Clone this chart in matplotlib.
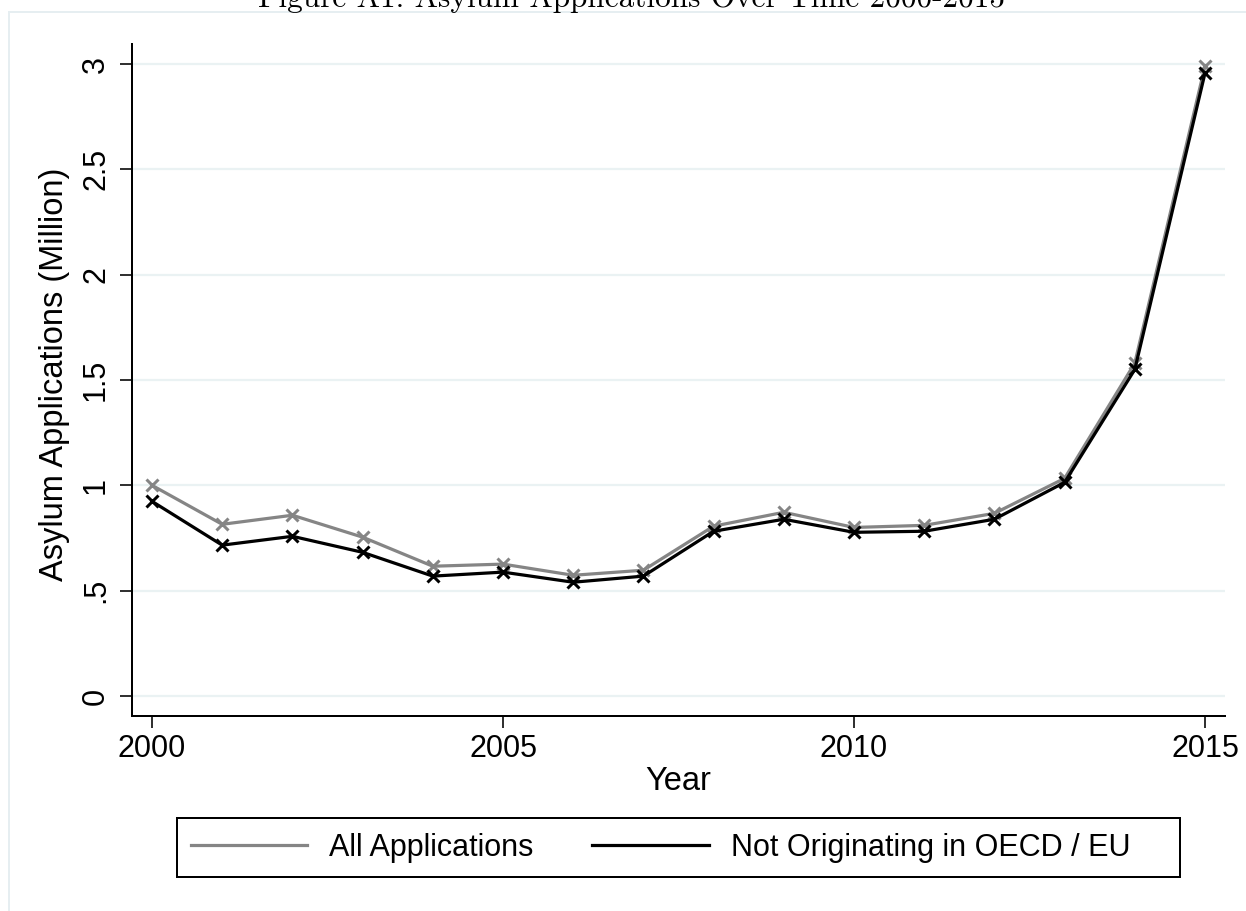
import matplotlib
matplotlib.use("Agg")
import matplotlib.pyplot as plt
from matplotlib.lines import Line2D
from matplotlib.patches import Rectangle

years = list(range(2000, 2016))
all_apps = [1.00, 0.815, 0.858, 0.754, 0.616, 0.626, 0.573, 0.597,
            0.806, 0.872, 0.800, 0.810, 0.867, 1.033, 1.58, 2.99]
non_oecd = [0.924, 0.716, 0.758, 0.682, 0.569, 0.588, 0.540, 0.569,
            0.782, 0.839, 0.777, 0.782, 0.839, 1.014, 1.55, 2.957]
yticks = [0, 0.5, 1, 1.5, 2, 2.5, 3]
ytick_labels = ["0", ".5", "1", "1.5", "2", "2.5", "3"]
xticks = [2000, 2005, 2010, 2015]
series_names = ["All Applications", "Not Originating in OECD / EU"]
title = "Figure A1: Asylum Applications Over Time 2000-2015"

W, H = 1246, 911
DPI = 100
PX = 72.0 / DPI  # points per pixel

plt.rcParams['font.family'] = ['Liberation Sans', 'DejaVu Sans']
fig = plt.figure(figsize=(W / DPI, H / DPI), dpi=DPI)
fig.patch.set_facecolor('white')

# outer graph-region frame (extends past the cropped image)
fig.patches.append(Rectangle((9 / W, -0.1), 1.2, 1 - 12 / H + 0.1,
                             transform=fig.transFigure, fill=False,
                             edgecolor='#e6eef1', lw=2 * PX))

left, right, top, bottom = 132, 1225, 44, 716
ax = fig.add_axes([left / W, 1 - bottom / H, (right - left) / W, (bottom - top) / H])

grid_c = '#eaf2f3'
for yv in yticks:
    ax.axhline(yv, color=grid_c, lw=2.2 * PX, zorder=0)

gray = '#858585'
ax.plot(years, all_apps, color=gray, lw=3.2 * PX, marker='x', ms=12 * PX,
        mew=3 * PX, zorder=3)
ax.plot(years, non_oecd, color='black', lw=3.2 * PX, marker='x', ms=12 * PX,
        mew=3 * PX, zorder=4)

ax.set_xlim(1999.715, 2015.285)
ax.set_ylim(-0.095, 3.095)
ax.set_xticks(xticks)
ax.set_xticklabels([str(x) for x in xticks])
ax.set_yticks(yticks)
ax.set_yticklabels(ytick_labels, rotation=90, va='center')

for s in ['top', 'right']:
    ax.spines[s].set_visible(False)
for s in ['left', 'bottom']:
    ax.spines[s].set_linewidth(2 * PX)
ax.tick_params(axis='both', direction='out', length=12 * PX, width=1.6 * PX,
               labelsize=22, color='black')
ax.tick_params(axis='x', pad=6 * PX)
ax.tick_params(axis='y', pad=9 * PX)

ax.set_xlabel("Year", fontsize=23.5)
ax.xaxis.set_label_coords(0.5, (bottom - 766) / (bottom - top))
ax.set_ylabel("Asylum Applications (Million)", fontsize=23.5)
ax.yaxis.set_label_coords((70 - left) / (right - left), (bottom - 374) / (bottom - top))

# legend: entries placed from the left, box drawn as in the reference
handles = [Line2D([], [], color=gray, lw=3.2 * PX),
           Line2D([], [], color='black', lw=3.2 * PX)]
leg = fig.legend(handles, series_names, ncol=2, loc='center left',
                 bbox_to_anchor=(191 / W, 1 - 848 / H),
                 fontsize=22, frameon=False,
                 handlelength=3.8, handletextpad=0.72, columnspacing=1.93,
                 borderpad=0, borderaxespad=0)
fig.patches.append(Rectangle((177 / W, 1 - 877 / H), (1180 - 177) / W, (877 - 818) / H,
                             transform=fig.transFigure, fill=False,
                             edgecolor='black', lw=2 * PX))

# title, partially cut off at the top edge of the image
fig.text(632 / W, 1 - 7 / H, title, ha='center', va='baseline',
         fontsize=22.5, family='cmr10')

fig.savefig('out.png', dpi=DPI)
